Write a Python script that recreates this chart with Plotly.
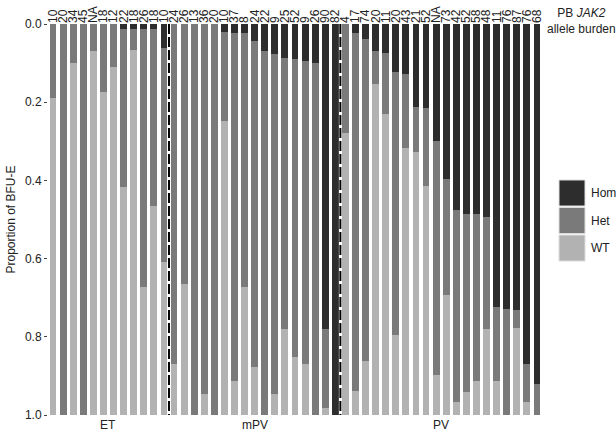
import plotly.graph_objects as go

# PB JAK2 allele burden (tick labels above each bar)
burden = ["10", "20", "34", "45", "NA", "18", "12", "22", "18", "26", "18", "10",
          "24", "26", "13", "36", "20", "10", "37", "8", "24", "22", "9", "25", "52", "9", "26", "90", "82",
          "4", "17", "74", "20", "11", "20", "43", "21", "52", "NA", "73", "42", "52", "58", "48", "11",
          "76", "87", "76", "68"]

groups = ["ET", "mPV", "PV"]
group_sizes = [12, 17, 20]

hom = [0, 0, 0, 0, 0, 0, 0, 0.012, 0.012, 0.013, 0.013, 0.062,
       0, 0, 0, 0, 0, 0.02, 0.023, 0.023, 0.044, 0.068, 0.077, 0.087, 0.09, 0.094, 0.1, 0.78, 1.0,
       0, 0.023, 0.038, 0.068, 0.074, 0.123, 0.128, 0.211, 0.215, 0.299, 0.397, 0.476, 0.487, 0.487,
       0.493, 0.723, 0.729, 0.731, 0.87, 0.921]
het = [0.19, 1.0, 0.10, 1.0, 0.07, 0.175, 0.11, 0.405, 0.054, 0.659, 0.453, 0.546,
       0.87, 0.665, 1.0, 0.946, 1.0, 0.228, 0.89, 0.649, 0.834, 0.932, 0.87, 0.693, 0.762, 0.776, 0.9, 0.201, 0,
       0.279, 0.915, 0.823, 0.085, 0.156, 0.672, 0.19, 0.117, 0.199, 0.599, 0.296, 0.49, 0.453, 0.426,
       0.288, 0.19, 0.271, 0.047, 0.098, 0.079]
wt = [0.81, 0, 0.90, 0, 0.93, 0.825, 0.89, 0.583, 0.934, 0.328, 0.534, 0.392,
      0.13, 0.335, 0, 0.054, 0, 0.752, 0.087, 0.328, 0.122, 0, 0.053, 0.22, 0.148, 0.13, 0, 0.019, 0,
      0.721, 0.062, 0.139, 0.847, 0.77, 0.205, 0.682, 0.672, 0.586, 0.102, 0.307, 0.034, 0.06, 0.087,
      0.219, 0.087, 0, 0.222, 0.032, 0]

colors = {"Hom": "#2d2d2d", "Het": "#7a7a7a", "WT": "#b2b2b2"}
x = list(range(len(burden)))

# plot area in pixels: left 48, right 542, top 24, bottom 415
def px(v):
    return (v - 48) / 494

def py(v):
    return 1 - (v - 24) / 391

fig = go.Figure()
for name, vals in [("Hom", hom), ("Het", het), ("WT", wt)]:
    fig.add_trace(go.Bar(x=x, y=vals, name=name, marker_color=colors[name],
                         marker_line_width=0, showlegend=False))

# dashed separators between groups
edge = -0.5
for n in group_sizes[:-1]:
    edge += n
    fig.add_shape(type="line", xref="x", yref="y", x0=edge, x1=edge, y0=0, y1=1,
                  line=dict(color="white", width=3))
    fig.add_shape(type="line", xref="x", yref="y", x0=edge, x1=edge, y0=0, y1=1,
                  line=dict(color="black", width=2, dash="10px,3px"))

# group labels under the bars
start = 0
for g, n in zip(groups, group_sizes):
    fig.add_annotation(x=start + (n - 1) / 2, y=0, xref="x", yref="paper", yshift=-1,
                       text=g, showarrow=False, yanchor="top",
                       font=dict(size=12, color="#222"))
    start += n

# legend drawn by hand (big keys)
for i, name in enumerate(["Hom", "Het", "WT"]):
    y0 = 180 + i * 27.5
    fig.add_shape(type="rect", xref="paper", yref="paper",
                  x0=px(559), x1=px(585), y0=py(y0), y1=py(y0 + 26),
                  fillcolor=colors[name], line=dict(color="#dddddd", width=1))
    fig.add_annotation(x=px(589), y=py(y0 + 13), xref="paper", yref="paper",
                       text=name, showarrow=False, xanchor="left", yanchor="middle",
                       font=dict(size=12, color="#222"))

fig.add_annotation(x=px(581), y=py(21), xref="paper", yref="paper",
                   text="PB <i>JAK2</i><br>allele burden", showarrow=False,
                   xanchor="center", yanchor="middle",
                   font=dict(size=12, color="#222"), align="center")

fig.update_layout(
    width=616, height=434,
    margin=dict(l=48, r=74, t=24, b=19),
    barmode="stack", bargap=0.32,
    plot_bgcolor="white", paper_bgcolor="white",
    font=dict(family="Liberation Sans, Arial, sans-serif", size=12, color="#222"),
    xaxis=dict(side="top", tickmode="array", tickvals=x, ticktext=burden,
               tickangle=-90, ticks="", showgrid=False, zeroline=False,
               range=[-0.5, len(burden) - 0.5], automargin=False,
               tickfont=dict(size=12, color="#222")),
    yaxis=dict(range=[1, 0], tickvals=[0, 0.2, 0.4, 0.6, 0.8, 1.0], tickformat=".1f",
               ticks="outside", ticklen=3, tickcolor="#444", showgrid=False, zeroline=False,
               showline=False, automargin=False,
               title=dict(text="Proportion of BFU-E", font=dict(size=12), standoff=6),
               tickfont=dict(size=12, color="#222")),
)

fig.write_html("out.html", config={"displayModeBar": False},
               post_script="document.body.style.margin='0px';document.body.style.overflow='hidden';")
